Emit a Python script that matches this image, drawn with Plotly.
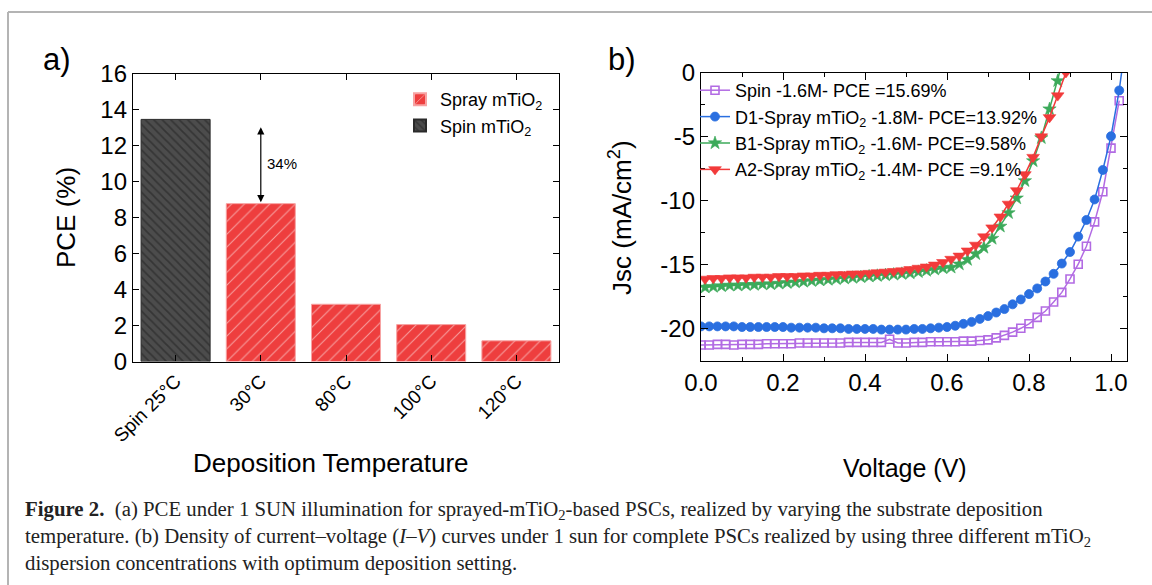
import plotly.graph_objects as go

# ---------------- data ----------------
categories = ["Spin 25°C", "30°C", "80°C", "100°C", "120°C"]
pce_spin = [13.45, None, None, None, None]
pce_spray = [None, 8.77, 3.18, 2.05, 1.15]

v_spin = [0.00, 0.02, 0.04, 0.06, 0.08, 0.10, 0.12, 0.14, 0.16, 0.18, 0.20, 0.22, 0.24,
          0.26, 0.28, 0.30, 0.32, 0.34, 0.36, 0.38, 0.40, 0.42, 0.44, 0.46, 0.48, 0.50,
          0.52, 0.54, 0.56, 0.58, 0.60, 0.62, 0.64, 0.66, 0.68, 0.70, 0.72, 0.74, 0.76,
          0.78, 0.80, 0.82, 0.84, 0.86, 0.88, 0.90, 0.92, 0.94, 0.96, 0.98, 1.00, 1.02]
j_spin = [-21.25, -21.25, -21.2, -21.2, -21.25, -21.2, -21.2, -21.2, -21.15, -21.15, -21.15,
          -21.15, -21.1, -21.1, -21.1, -21.1, -21.1, -21.1, -21.05, -21.05, -21.05, -21.05,
          -21.05, -20.8, -21.1, -21.1, -21.05, -21.05, -21.0, -21.0, -21.0, -21.0, -20.95,
          -20.95, -20.9, -20.85, -20.7, -20.5, -20.25, -19.95, -19.6, -19.1, -18.6, -17.9,
          -17.15, -16.1, -14.95, -13.55, -11.65, -9.3, -5.9, -2.2]

v_d1 = [0.00, 0.02, 0.04, 0.06, 0.08, 0.10, 0.12, 0.14, 0.16, 0.18, 0.20, 0.22, 0.24,
        0.26, 0.28, 0.30, 0.32, 0.34, 0.36, 0.38, 0.40, 0.42, 0.44, 0.46, 0.48, 0.50,
        0.52, 0.54, 0.56, 0.58, 0.60, 0.62, 0.64, 0.66, 0.68, 0.70, 0.72, 0.74, 0.76,
        0.78, 0.80, 0.82, 0.84, 0.86, 0.88, 0.90, 0.92, 0.94, 0.96, 0.98, 1.00, 1.02, 1.03]
j_d1 = [-19.8, -19.8, -19.8, -19.8, -19.8, -19.85, -19.85, -19.85, -19.85, -19.85, -19.85,
        -19.9, -19.9, -19.9, -19.9, -19.95, -19.95, -19.95, -20.0, -20.0, -20.0, -20.0,
        -20.05, -20.05, -20.05, -20.05, -20.0, -20.0, -19.95, -19.9, -19.85, -19.75, -19.6,
        -19.45, -19.22, -19.0, -18.72, -18.45, -18.08, -17.7, -17.28, -16.84, -16.3, -15.7,
        -14.9, -14.0, -12.8, -11.5, -9.9, -7.6, -4.97, -1.4, 1.0]

v_b1 = [0.01, 0.03, 0.05, 0.07, 0.09, 0.11, 0.13, 0.15, 0.17, 0.19, 0.21, 0.23, 0.25,
        0.27, 0.29, 0.31, 0.33, 0.35, 0.37, 0.39, 0.41, 0.43, 0.45, 0.47, 0.49, 0.51,
        0.53, 0.55, 0.57, 0.59, 0.61, 0.63, 0.65, 0.67, 0.69, 0.71, 0.73, 0.75, 0.77,
        0.79, 0.81, 0.83, 0.85, 0.87, 0.89]
j_b1 = [-16.75, -16.7, -16.65, -16.6, -16.6, -16.55, -16.55, -16.5, -16.5, -16.45, -16.4,
        -16.35, -16.3, -16.25, -16.2, -16.15, -16.1, -16.05, -16.0, -15.95, -15.9, -15.85,
        -15.8, -15.75, -15.7, -15.65, -15.55, -15.45, -15.35, -15.25, -15.2, -14.95, -14.6,
        -14.15, -13.65, -12.95, -12.0, -10.95, -9.8, -8.45, -6.9, -5.1, -2.85, -0.65, 1.8]

v_a2 = [0.01, 0.03, 0.05, 0.07, 0.09, 0.11, 0.13, 0.15, 0.17, 0.19, 0.21, 0.23, 0.25,
        0.27, 0.29, 0.31, 0.33, 0.35, 0.37, 0.39, 0.41, 0.43, 0.45, 0.47, 0.49, 0.51,
        0.53, 0.55, 0.57, 0.59, 0.61, 0.63, 0.65, 0.67, 0.69, 0.71, 0.73, 0.75, 0.77,
        0.79, 0.81, 0.83, 0.85, 0.87, 0.89, 0.91]
j_a2 = [-16.1, -16.05, -16.05, -16.0, -16.0, -16.0, -15.95, -15.95, -15.95, -15.9, -15.9,
        -15.9, -15.85, -15.85, -15.8, -15.8, -15.75, -15.75, -15.7, -15.7, -15.65, -15.6,
        -15.55, -15.5, -15.45, -15.35, -15.25, -15.15, -15.0, -14.8, -14.55, -14.3, -13.9,
        -13.45, -12.8, -12.1, -11.25, -10.25, -9.2, -7.95, -6.6, -5.0, -3.5, -1.8, 0.0, 1.8]

names_b = ["Spin -1.6M- PCE =15.69%",
           "D1-Spray mTiO<sub>2</sub> -1.8M- PCE=13.92%",
           "B1-Spray mTiO<sub>2</sub> -1.6M- PCE=9.58%",
           "A2-Spray mTiO<sub>2</sub> -1.4M- PCE =9.1%"]

pce_ticks = [0, 2, 4, 6, 8, 10, 12, 14, 16]
v_ticks = [0.0, 0.2, 0.4, 0.6, 0.8, 1.0]
v_ticklabels = ["0.0", "0.2", "0.4", "0.6", "0.8", "1.0"]
j_ticks = [0, -5, -10, -15, -20]
j_ticklabels = ["0", "-5", "-10", "-15", "-20"]

# ---------------- figure ----------------
W, H = 1152, 585
FONT = "Liberation Sans, Arial, sans-serif"
RED = "#EE3E3E"
DARK = "#4C4C4C"


def px(x):
    return x / W


def py(y):
    return 1 - y / H


fig = go.Figure()

fig.add_trace(go.Bar(
    x=categories, y=pce_spray, name="Spray mTiO<sub>2</sub>", width=0.81,
    marker=dict(color=RED, line=dict(color="#F7A3A3", width=1),
                pattern=dict(shape="/", fgcolor="white", bgcolor=RED, size=9,
                             solidity=0.12, fillmode="overlay")),
    xaxis="x", yaxis="y", legend="legend"))
fig.add_trace(go.Bar(
    x=categories, y=pce_spin, name="Spin mTiO<sub>2</sub>", width=0.81,
    marker=dict(color=DARK, line=dict(color="#2a2a2a", width=1),
                pattern=dict(shape="\\", fgcolor="#1e1e1e", bgcolor=DARK, size=6,
                             solidity=0.3, fillmode="overlay")),
    xaxis="x", yaxis="y", legend="legend"))

line_specs = [
    (v_spin, j_spin, "#B26BE3", "square-open", 8, 1.6),
    (v_d1, j_d1, "#2A6FE0", "circle", 9, 0.8),
    (v_b1, j_b1, "#3CAA5A", "star", 10, 0.6),
    (v_a2, j_a2, "#F23A3A", "triangle-down", 11, 0.6),
]
for (vx, jy, col, sym, ms, lw), nm in zip(line_specs, names_b):
    fig.add_trace(go.Scatter(
        x=vx, y=jy, mode="lines+markers", name=nm,
        line=dict(color=col, width=1.5),
        marker=dict(symbol=sym, size=ms, color=col, line=dict(color=col, width=lw)),
        xaxis="x2", yaxis="y2", legend="legend2", cliponaxis=True))

axis_common = dict(showline=True, linecolor="black", linewidth=1.3, mirror="allticks",
                   ticks="inside", tickcolor="black", showgrid=False, zeroline=False)
TICKFONT = dict(family=FONT, size=24, color="black")

fig.update_layout(
    width=W, height=H, margin=dict(l=0, r=0, t=0, b=0),
    paper_bgcolor="white", plot_bgcolor="white", barmode="overlay",
    font=dict(family=FONT, color="black"),
    xaxis=dict(domain=[px(133), px(559)], anchor="y", range=[-0.5, 4.5],
               categoryorder="array", categoryarray=categories, tickangle=-45,
               ticklen=6, tickfont=dict(family=FONT, size=19, color="black"),
               automargin=False, **axis_common),
    yaxis=dict(domain=[py(361.5), py(73.5)], anchor="x", range=[0, 16],
               tickvals=pce_ticks, ticktext=[str(t) for t in pce_ticks],
               ticklen=6, tickfont=TICKFONT, automargin=False, **axis_common),
    xaxis2=dict(domain=[px(701), px(1127)], anchor="y2", range=[0, 1.039],
                tickvals=v_ticks, ticktext=v_ticklabels, ticklen=7,
                minor=dict(dtick=0.1, ticks="inside", ticklen=4, tickcolor="black"),
                tickfont=TICKFONT, automargin=False, **axis_common),
    yaxis2=dict(domain=[py(361), py(72.5)], anchor="x2", range=[-22.5, 0],
                tickvals=j_ticks, ticktext=j_ticklabels, ticklen=7,
                minor=dict(dtick=2.5, ticks="inside", ticklen=4, tickcolor="black"),
                tickfont=TICKFONT, automargin=False, **axis_common),
    legend=dict(x=px(400), y=py(81), xanchor="left", yanchor="top",
                bgcolor="rgba(0,0,0,0)", font=dict(family=FONT, size=18),
                tracegroupgap=0, itemsizing="constant", traceorder="normal"),
    legend2=dict(x=px(695), y=py(72), xanchor="left", yanchor="top",
                 bgcolor="rgba(0,0,0,0)", font=dict(family=FONT, size=18),
                 tracegroupgap=0, traceorder="normal"),
    showlegend=True,
)

# frame lines
fig.add_shape(type="line", xref="paper", yref="paper", x0=px(8), x1=1, y0=py(12), y1=py(12),
              line=dict(color="#B4B4B4", width=2))
fig.add_shape(type="line", xref="paper", yref="paper", x0=px(8), x1=px(8), y0=py(12), y1=0,
              line=dict(color="#B4B4B4", width=2))

# arrow and 34%
fig.add_annotation(x=categories[1], y=8.85, ax=categories[1], ay=13.1, xref="x", yref="y",
                   axref="x", ayref="y", text="", showarrow=True, arrowhead=2,
                   arrowside="end+start", arrowsize=1.2, arrowwidth=1.2, arrowcolor="black")
fig.add_annotation(x=categories[1], y=11.0, xref="x", yref="y", text="34%", showarrow=False,
                   xanchor="left", xshift=4, font=dict(family=FONT, size=15, color="black"))

ann = [
    ("a)", 57, 60, 31, 0), ("b)", 622, 60, 31, 0),
    ("PCE (%)", 66, 218, 26, -90), ("Deposition Temperature", 331, 463, 26, 0),
    ("Jsc (mA/cm<sup>2</sup>)", 620, 218, 26, -90), ("Voltage (V)", 905, 468, 25, 0),
]
for t, x, y, s, ang in ann:
    fig.add_annotation(x=px(x), y=py(y), xref="paper", yref="paper", text=t, showarrow=False,
                       textangle=ang, xanchor="center", yanchor="middle",
                       font=dict(family=FONT, size=s, color="black"))

CAP = "Liberation Serif, Times New Roman, serif"
caption = [
    ("<b>Figure 2.</b>  (a) PCE under 1 SUN illumination for sprayed-mTiO<sub>2</sub>-based PSCs, "
     "realized by varying the substrate deposition", 510),
    ("temperature. (b) Density of current–voltage (<i>I</i>–<i>V</i>) curves under 1 sun for "
     "complete PSCs realized by using three different mTiO<sub>2</sub>", 537),
    ("dispersion concentrations with optimum deposition setting.", 563),
]
for t, y in caption:
    fig.add_annotation(x=px(23), y=py(y), xref="paper", yref="paper", text=t, showarrow=False,
                       xanchor="left", yanchor="middle",
                       font=dict(family=CAP, size=20.8, color="#222222"))

fig.write_html("out.html",
               post_script="document.body.style.margin='0';"
                           "document.body.style.overflow='hidden';")
